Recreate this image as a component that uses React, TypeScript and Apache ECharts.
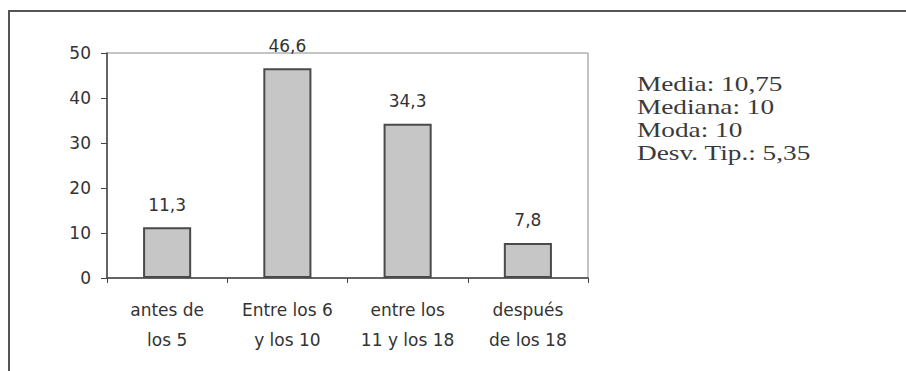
import React, { useEffect, useRef } from "react";
import * as echarts from "echarts";

// Edad de inicio (porcentaje por tramo)
const categories = ["antes de\nlos 5", "Entre los 6\ny los 10", "entre los\n11 y los 18", "después\nde los 18"];
const values = [11.3, 46.6, 34.3, 7.8];
const yTicks = { min: 0, max: 50, interval: 10 };
const statLines = ["Media: 10,75", "Mediana: 10", "Moda: 10", "Desv. Tip.: 5,35"];

const SANS = '"DejaVu Sans", "Liberation Sans", Arial, sans-serif';

export default function App() {
  const ref = useRef<HTMLDivElement>(null);

  useEffect(() => {
    if (!ref.current) return;
    const chart = echarts.init(ref.current, null, { renderer: "svg" });
    const fmt = (v: number) => String(v).replace(".", ",");
    chart.setOption({
      animation: false,
      backgroundColor: "#ffffff",
      grid: {
        left: 107,
        top: 53,
        width: 481,
        height: 225,
        show: true,
        borderColor: "#8a8a8a",
        borderWidth: 1,
        backgroundColor: "transparent",
      },
      xAxis: {
        type: "category",
        data: categories,
        axisLine: { lineStyle: { color: "#444", width: 1.5 } },
        axisTick: { show: true, length: 5, lineStyle: { color: "#444" } },
        axisLabel: {
          color: "#333",
          fontFamily: SANS,
          fontSize: 17,
          lineHeight: 30,
          margin: 17,
          interval: 0,
        },
      },
      yAxis: {
        type: "value",
        min: yTicks.min,
        max: yTicks.max,
        interval: yTicks.interval,
        splitLine: { show: false },
        axisLine: { show: true, lineStyle: { color: "#444", width: 1.5 } },
        axisTick: { show: true, length: 6, lineStyle: { color: "#444" } },
        axisLabel: {
          color: "#333",
          fontFamily: SANS,
          fontSize: 17,
          margin: 16,
        },
      },
      series: [
        {
          type: "bar",
          data: values,
          barWidth: "40%",
          itemStyle: { color: "#c6c6c6", borderColor: "#4a4a4a", borderWidth: 2 },
          label: {
            show: true,
            position: "top",
            distance: 14,
            color: "#333",
            fontFamily: SANS,
            fontSize: 17,
            formatter: (p: any) => fmt(p.value),
          },
        },
      ],
      graphic: [
        {
          type: "line",
          shape: { x1: 8, y1: 11, x2: 906, y2: 11 },
          style: { stroke: "#555", lineWidth: 2 },
        },
        {
          type: "line",
          shape: { x1: 9, y1: 10, x2: 9, y2: 371 },
          style: { stroke: "#555", lineWidth: 2 },
        },
        ...statLines.map((t, i) => ({
          type: "text",
          x: 637,
          y: 73 + i * 23,
          scaleX: 1.3,
          style: {
            text: t,
            fill: "#3a3a3a",
            font: '21px "Liberation Serif", "Times New Roman", serif',
          },
        })),
      ],
    });
    return () => chart.dispose();
  }, []);

  return (
    <div
      ref={ref}
      style={{ position: "absolute", left: 0, top: 0, width: 906, height: 371 }}
    />
  );
}
